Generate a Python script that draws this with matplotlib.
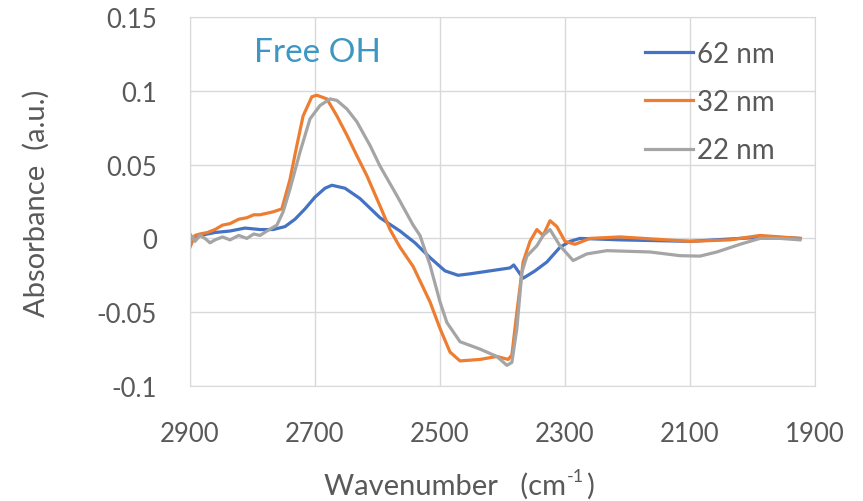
import matplotlib
matplotlib.use("Agg")
import matplotlib.pyplot as plt

plt.rcParams['font.family'] = ['Lato', 'DejaVu Sans']
plt.rcParams['axes.unicode_minus'] = False

# 62 nm
wn_62 = [2900, 2884, 2860, 2836, 2812, 2788, 2767, 2748, 2732, 2716, 2700, 2684, 2673,
         2652, 2628, 2596, 2564, 2540, 2516, 2492, 2471, 2452, 2420, 2388, 2382, 2367,
         2348, 2329, 2308, 2292, 2276, 2212, 2100, 2020, 1972, 1924]
abs_62 = [0.000, 0.002, 0.004, 0.005, 0.007, 0.006, 0.006, 0.008, 0.013, 0.020, 0.028, 0.034, 0.036,
          0.034, 0.027, 0.014, 0.005, -0.003, -0.013, -0.022, -0.025, -0.024, -0.022, -0.020, -0.018, -0.027,
          -0.022, -0.016, -0.006, -0.002, 0.000, -0.001, -0.002, 0.000, 0.001, 0.000]

# 32 nm
wn_32 = [2900, 2892, 2884, 2872, 2860, 2848, 2836, 2822, 2809, 2798, 2788, 2767, 2753, 2740,
         2729, 2719, 2705, 2697, 2681, 2665, 2649, 2633, 2617, 2596, 2580, 2564, 2543, 2516,
         2500, 2484, 2468, 2436, 2409, 2391, 2385, 2377, 2367, 2356, 2345, 2335, 2324, 2313,
         2300, 2284, 2260, 2212, 2100, 2036, 1988, 1924]
abs_32 = [-0.006, 0.002, 0.003, 0.004, 0.006, 0.009, 0.010, 0.013, 0.014, 0.016, 0.016, 0.018, 0.020, 0.040,
          0.063, 0.083, 0.096, 0.097, 0.0945, 0.083, 0.070, 0.056, 0.0425, 0.022, 0.006, -0.006, -0.019, -0.043,
          -0.061, -0.077, -0.083, -0.082, -0.080, -0.082, -0.079, -0.050, -0.016, -0.002, 0.006, 0.002, 0.012, 0.008,
          -0.002, -0.004, 0.000, 0.001, -0.002, -0.001, 0.002, 0.000]

# 22 nm
wn_22 = [2900, 2892, 2884, 2876, 2868, 2860, 2848, 2836, 2822, 2809, 2798, 2788, 2777, 2761,
         2751, 2740, 2724, 2708, 2692, 2676, 2665, 2649, 2633, 2612, 2596, 2569, 2543, 2532,
         2516, 2500, 2489, 2468, 2436, 2409, 2393, 2385, 2377, 2369, 2361, 2345, 2335, 2324,
         2308, 2287, 2265, 2233, 2164, 2116, 2084, 2057, 2020, 1988, 1956, 1924]
abs_22 = [0.003, -0.002, 0.002, 0.000, -0.003, -0.001, 0.001, -0.001, 0.002, 0.000, 0.003, 0.002, 0.005, 0.009,
          0.018, 0.0335, 0.0585, 0.081, 0.090, 0.0945, 0.0935, 0.0877, 0.079, 0.063, 0.049, 0.029, 0.009, 0.002,
          -0.018, -0.043, -0.057, -0.070, -0.075, -0.080, -0.086, -0.084, -0.061, -0.023, -0.012, -0.005, 0.002, 0.006,
          -0.005, -0.015, -0.0105, -0.0083, -0.0092, -0.0117, -0.012, -0.0092, -0.004, 0.000, 0.000, -0.001]

labels = ['62 nm', '32 nm', '22 nm']
colors = ['#4472C4', '#ED7D31', '#A5A5A5']
x_ticks = [2900, 2700, 2500, 2300, 2100, 1900]
y_ticks = [-0.1, -0.05, 0, 0.05, 0.1, 0.15]
y_tick_labels = ['-0.1', '-0.05', '0', '0.05', '0.1', '0.15']

fig = plt.figure(figsize=(8.63, 5.02), dpi=100)
ax = fig.add_axes([190 / 863, 115 / 502, 625 / 863, 369 / 502])

series = [(wn_62, abs_62), (wn_32, abs_32), (wn_22, abs_22)]
for (wn, ab), lab, c in zip(series, labels, colors):
    ax.plot(wn, ab, color=c, lw=2.3, label=lab)

ax.set_xlim(2900, 1900)
ax.set_ylim(-0.1, 0.15)
ax.set_xticks(x_ticks)
ax.set_xticklabels([str(t) for t in x_ticks])
ax.set_yticks(y_ticks)
ax.set_yticklabels(y_tick_labels)
ax.grid(True, color='#d9d9d9', lw=1)
ax.set_axisbelow(True)
for s in ax.spines.values():
    s.set_color('#d9d9d9')
ax.tick_params(length=0, labelsize=18.5, colors='#595959')
ax.tick_params(axis='y', pad=24)
ax.tick_params(axis='x', pad=25)

ax.text(2797, 0.126, 'Free OH', color='#3d97c2', fontsize=24, va='center', ha='left')

leg = ax.legend(loc='upper left', bbox_to_anchor=(0.728, 0.935), frameon=False,
                fontsize=20, handlelength=1.73, handletextpad=0.15, labelspacing=0.8,
                borderpad=0, borderaxespad=0)
for t in leg.get_texts():
    t.set_color('#595959')

# x title in three pieces so the "-1" sits raised between "cm" and ")"
fig.text(566 / 863, 1 - 486 / 502, 'Wavenumber   (cm', fontsize=21, color='#595959',
         ha='right', va='center')
fig.text(567 / 863, 1 - 477 / 502, '-1', fontsize=13, color='#595959',
         ha='left', va='center')
fig.text(586 / 863, 1 - 486 / 502, ')', fontsize=21, color='#595959',
         ha='left', va='center')
fig.text(36 / 863, 1 - 203 / 502, 'Absorbance  (a.u.)', rotation=90,
         fontsize=21, color='#595959', ha='center', va='center')

fig.savefig('out.png', dpi=100)
